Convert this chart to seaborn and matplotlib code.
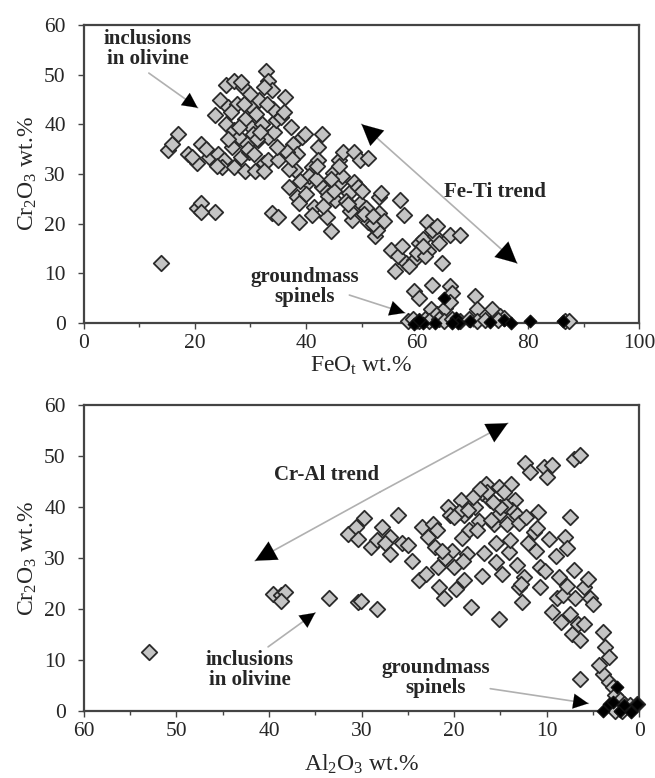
import numpy as np
import pandas as pd
import matplotlib
matplotlib.use("Agg")
import matplotlib.pyplot as plt
import seaborn as sns

# ---------------- data: top panel (FeOt vs Cr2O3) ----------------
feo_incl = [13.9, 15.1, 15.8, 17.0, 18.8, 20.3, 21.1, 22.6, 24.1, 20.3, 21.1, 23.7, 21.1,
            25.6, 27.1, 28.6, 28.3, 24.5, 23.7, 26.0, 25.6, 27.1, 27.5, 27.9, 26.7, 25.2, 24.9,
            27.1, 28.3, 29.4, 30.1, 30.1, 31.6, 32.8, 33.2, 33.9, 32.4, 36.2, 31.0, 32.0, 31.3,
            33.2, 34.3, 34.6, 32.4, 33.2, 35.0, 37.3, 37.7, 38.4, 39.2, 39.9, 38.0, 36.9, 38.4,
            38.8, 33.9, 35.0, 38.8, 40.3, 41.1, 42.2, 42.9, 42.2, 42.9, 43.7, 41.4, 41.1, 43.7,
            44.5, 44.8, 45.9, 46.7, 45.9, 45.2, 47.8, 48.6, 49.7, 51.2, 48.6, 49.4, 48.2, 49.7,
            50.8, 51.2, 52.4, 53.2, 53.5, 53.2, 52.7, 56.9, 57.6, 55.3, 56.5, 57.3, 56.1, 58.0,
            59.5, 60.3, 61.0, 61.8, 63.3, 62.6, 65.9, 67.8, 64.4, 59.5, 60.3, 62.6, 65.9, 66.3,
            62.5, 63.6, 65.1, 65.9, 70.4, 70.8, 73.5, 75.0, 75.7,
            29.0, 30.5, 28.0, 26.5, 29.8, 31.2, 34.0, 35.5, 36.5, 29.0, 30.8, 40.5, 41.8, 44.0,
            46.5, 47.2, 50.0, 39.0, 37.0, 43.0, 45.0, 48.0, 52.0, 60.0, 62.0, 64.0, 58.5, 61.5,
            28.8, 30.0, 31.8, 33.0, 29.5, 30.7, 32.5, 34.8, 36.0, 37.5, 26.0, 24.0, 22.0, 19.5,
            40.0, 42.0, 44.5, 46.0, 47.5, 50.5, 52.0, 54.0, 61.0, 63.5,
            58.4, 59.2, 60.3, 61.4, 62.2, 64.0, 64.8, 66.3, 67.8, 69.3, 70.8, 72.3, 74.6, 86.7, 87.4]
cr_incl_top = [12.0, 34.8, 36.1, 38.1, 34.1, 32.1, 36.1, 33.4, 34.1, 23.1, 24.1, 22.4, 22.4,
               47.8, 48.8, 47.5, 48.5, 44.8, 41.8, 43.5, 40.1, 38.8, 44.1, 37.5, 35.5, 32.8, 31.4,
               31.4, 33.4, 36.1, 39.5, 43.5, 44.8, 50.8, 48.8, 46.8, 47.5, 45.5, 42.1, 40.1, 36.8,
               37.5, 38.5, 40.8, 32.1, 32.8, 32.8, 39.5, 36.1, 34.1, 37.5, 38.1, 30.8, 27.4, 25.4,
               24.1, 22.1, 21.4, 20.4, 28.4, 31.4, 35.5, 38.1, 32.8, 27.4, 26.4, 23.4, 21.7, 21.4,
               18.4, 30.1, 32.8, 34.4, 28.1, 24.7, 26.1, 34.4, 32.8, 33.1, 28.4, 27.4, 20.7, 24.1,
               23.1, 20.4, 17.4, 25.4, 26.1, 22.1, 18.7, 24.7, 21.7, 14.7, 13.4, 15.4, 10.4, 12.0,
               12.7, 16.1, 16.8, 20.4, 17.4, 18.7, 17.7, 17.7, 12.0, 6.4, 5.0, 7.7, 7.4, 6.0,
               2.7, 1.7, 3.0, 4.3, 5.4, 2.7, 2.7, 1.3, 1.0,
               41.0, 38.0, 39.5, 42.5, 34.5, 37.0, 43.0, 41.5, 34.5, 30.5, 30.5, 29.5, 29.0, 25.5,
               29.5, 24.5, 26.5, 28.5, 31.0, 23.5, 26.5, 22.5, 20.0, 14.0, 14.5, 16.0, 11.5, 13.5,
               44.0, 46.0, 38.5, 44.0, 35.0, 34.0, 30.5, 35.5, 42.5, 33.0, 37.0, 31.5, 35.0, 33.5,
               26.0, 31.5, 29.0, 31.5, 24.0, 22.0, 21.5, 20.5, 15.5, 19.5,
               0.3, 0.7, 0.3, 0.7, 0.3, 0.7, 0.3, 0.7, 0.3, 0.7, 0.3, 0.5, 0.5, 0.3, 0.3]

feo_gm = [64.8, 59.5, 61.0, 63.3, 67.0, 67.4, 69.6, 73.1, 75.7, 76.9, 80.3, 86.3, 66.3, 60.3]
cr_gm_top = [5.0, -0.3, 0.0, 0.0, 1.0, 0.0, 0.3, 0.2, 0.5, 0.0, 0.3, 0.3, 0.0, 0.6]

# ---------------- data: bottom panel (Al2O3 vs Cr2O3) ----------------
al_incl = [53.0, 39.6, 38.7, 38.3, 38.7, 33.5, 30.4, 30.1, 28.3,
           31.5, 30.6, 29.7, 30.4, 29.0, 28.3, 27.8, 26.9, 26.9, 25.6, 26.1, 25.0, 23.8, 23.5,
           22.8, 22.3, 21.9, 22.1, 21.7, 21.6, 21.1, 20.7, 20.2, 20.0, 19.8, 19.3, 18.9, 18.4,
           18.6, 18.9, 18.2, 17.7, 17.3, 17.0, 16.6, 16.1, 15.7, 15.2, 15.2, 15.5, 15.5, 15.2,
           14.8, 14.3, 14.1, 13.9, 13.4, 13.7, 13.2, 13.2, 13.0, 12.7, 12.5, 12.3, 11.8, 11.4,
           11.2, 10.9, 10.7, 10.7, 10.3, 10.0, 9.8, 9.4, 9.4, 8.9, 8.7, 8.2, 8.0, 7.5, 7.1, 6.4,
           7.5, 7.3, 7.1, 6.9, 6.6, 6.4, 6.4, 6.0, 5.5, 5.3, 6.0, 3.9, 3.7, 3.3, 3.9, 3.3, 2.8,
           2.6, 2.1, 1.7, 1.0, 0.3, 2.6, 1.9,
           19.5, 18.0, 16.5, 14.5, 12.0, 20.5, 17.5, 16.0, 19.0, 21.0, 15.0, 12.8, 11.0, 9.0,
           8.5, 7.8, 10.2, 14.0, 17.0, 23.0, 24.5, 27.5,
           20.0, 18.5, 17.2, 15.8, 14.6, 13.0, 19.2, 16.8, 21.3, 12.2, 7.8, 5.0, 4.3]
cr_incl_bot = [11.6, 23.0, 22.7, 23.4, 21.7, 22.1, 21.4, 21.7, 20.1,
               34.8, 36.1, 37.8, 33.8, 32.2, 33.5, 36.1, 34.2, 30.9, 32.9, 38.4, 32.5, 25.7, 36.1,
               34.2, 36.8, 35.5, 32.2, 28.3, 24.3, 22.1, 40.1, 31.5, 28.3, 24.0, 41.4, 38.4, 35.5,
               30.9, 25.7, 20.4, 40.1, 37.4, 42.7, 44.6, 41.4, 36.8, 38.7, 44.0, 32.9, 29.3, 18.1,
               27.0, 36.8, 31.2, 44.6, 41.4, 39.4, 38.4, 28.6, 24.3, 21.4, 26.3, 48.6, 46.9, 35.1,
               31.5, 39.1, 28.3, 24.3, 47.9, 45.9, 33.8, 48.2, 19.4, 22.1, 26.3, 22.7, 34.2, 38.1, 49.5, 50.2,
               19.1, 15.2, 27.6, 22.1, 17.1, 13.9, 6.3, 24.3, 26.0, 22.1, 17.1, 15.5, 12.6, 10.6, 7.3, 5.7, 4.7,
               3.1, 2.1, 1.4, 1.1, 1.4, 0.1, 0.1,
               39.0, 42.0, 43.0, 40.5, 33.0, 38.5, 35.5, 37.5, 29.5, 30.0, 40.0, 25.0, 36.0, 30.5,
               17.5, 32.0, 27.5, 33.5, 26.5, 27.0, 29.5, 33.0,
               38.0, 39.5, 43.5, 41.0, 43.0, 37.0, 34.0, 31.0, 31.5, 38.0, 24.5, 21.0, 9.0]

al_gm = [3.9, 3.3, 2.8, 2.4, 2.1, 0.9, 0.3, 1.7]
cr_gm_bot = [0.1, 1.4, 1.8, 4.8, 0.1, -0.2, 1.3, 1.1]

x_ticks_top = [0, 20, 40, 60, 80, 100]
x_ticks_bot = [60, 50, 40, 30, 20, 10, 0]
y_ticks = [0, 10, 20, 30, 40, 50, 60]

# ---------------- style ----------------
sns.set_theme(style="white")
plt.rcParams["font.family"] = ["Liberation Serif", "DejaVu Serif"]
plt.rcParams["mathtext.fontset"] = "custom"
plt.rcParams["mathtext.rm"] = "Liberation Serif"
plt.rcParams["mathtext.it"] = "Liberation Serif:italic"
plt.rcParams["mathtext.bf"] = "Liberation Serif:bold"

GRAY = "#c4c4c4"
EDGE = "#2a2a2a"
SPINE = "#444444"

fig = plt.figure(figsize=(6.55, 7.78), dpi=100)
ax1 = fig.add_axes([0.128, 0.585, 0.848, 0.383])
ax2 = fig.add_axes([0.128, 0.086, 0.848, 0.393])

df_top_i = pd.DataFrame({"x": feo_incl, "y": cr_incl_top})
df_top_g = pd.DataFrame({"x": feo_gm, "y": cr_gm_top})
df_bot_i = pd.DataFrame({"x": al_incl, "y": cr_incl_bot})
df_bot_g = pd.DataFrame({"x": al_gm, "y": cr_gm_bot})

for ax, di, dg in [(ax1, df_top_i, df_top_g), (ax2, df_bot_i, df_bot_g)]:
    sns.scatterplot(data=di, x="x", y="y", ax=ax, marker="D", s=62, color=GRAY,
                    edgecolor=EDGE, linewidth=1.3, zorder=3, clip_on=False)
    sns.scatterplot(data=dg, x="x", y="y", ax=ax, marker="D", s=40, color="black",
                    edgecolor="#111111", linewidth=1.0, zorder=4, clip_on=False)
    ax.set_ylim(0, 60)
    ax.set_yticks(y_ticks)
    for sp in ax.spines.values():
        sp.set_color(SPINE)
        sp.set_linewidth(1.6)
    ax.tick_params(axis="both", which="major", direction="out", length=4, width=1,
                   color=SPINE, labelsize=15.5, pad=4, bottom=True, left=True)
    ax.tick_params(axis="y", which="major", pad=9)
    ax.tick_params(axis="x", which="minor", direction="out", length=3, width=1,
                   color=SPINE, bottom=True)
    ax.set_ylabel(r"Cr$_\mathrm{2}$O$_\mathrm{3}$ wt.%", fontsize=17, labelpad=4)

ax1.set_xlim(0, 100)
ax1.set_xticks(x_ticks_top)
ax1.set_xticks(np.arange(10, 100, 20), minor=True)
ax1.set_xlabel(r"FeO$_\mathrm{t}$ wt.%", fontsize=17, labelpad=1)

ax2.set_xlim(60, 0)
ax2.set_xticks(x_ticks_bot)
ax2.set_xticks(np.arange(55, 0, -10), minor=True)
ax2.set_xlabel(r"Al$_\mathrm{2}$O$_\mathrm{3}$ wt.%", fontsize=17, labelpad=8)

TXT = dict(fontsize=15, fontweight="bold", ha="center", va="center",
           linespacing=1.0, zorder=5)


def arrow(ax, start, end, big=False):
    ax.annotate("", xy=end, xytext=start,
                arrowprops=dict(arrowstyle="-", color="#b0b0b0", lw=1.2,
                                shrinkA=0, shrinkB=0), zorder=2)
    sx, sy = start
    ex, ey = end
    frac = 0.02
    hs = (ex - (ex - sx) * frac, ey - (ey - sy) * frac)
    hl, hw = (1.25, 0.62) if big else (0.9, 0.45)
    ax.annotate("", xy=end, xytext=hs,
                arrowprops=dict(arrowstyle=f"-|>,head_length={hl},head_width={hw}",
                                color="black", lw=0.1, shrinkA=0, shrinkB=0), zorder=2)


# top panel annotations
ax1.text(11.5, 55.2, "inclusions\nin olivine", **TXT)
arrow(ax1, (11.7, 50.3), (20.5, 43.3))
arrow(ax1, (63.5, 26.5), (50.0, 40.0), big=True)
arrow(ax1, (63.5, 26.5), (78.0, 12.0), big=True)
ax1.text(74.0, 26.4, "Fe-Ti trend", **TXT)
ax1.text(39.7, 7.3, "groundmass\nspinels", **TXT)
arrow(ax1, (47.8, 5.6), (57.8, 2.0))

# bottom panel annotations
arrow(ax2, (28.0, 43.0), (41.5, 29.5), big=True)
arrow(ax2, (28.0, 43.0), (14.2, 56.5), big=True)
ax2.text(33.8, 46.3, "Cr-Al trend", **TXT)
ax2.text(42.1, 8.0, "inclusions\nin olivine", **TXT)
arrow(ax2, (40.1, 12.6), (35.0, 19.3))
ax2.text(22.0, 6.4, "groundmass\nspinels", **TXT)
arrow(ax2, (16.1, 4.4), (5.5, 1.5))

fig.savefig("out.png", dpi=100)
